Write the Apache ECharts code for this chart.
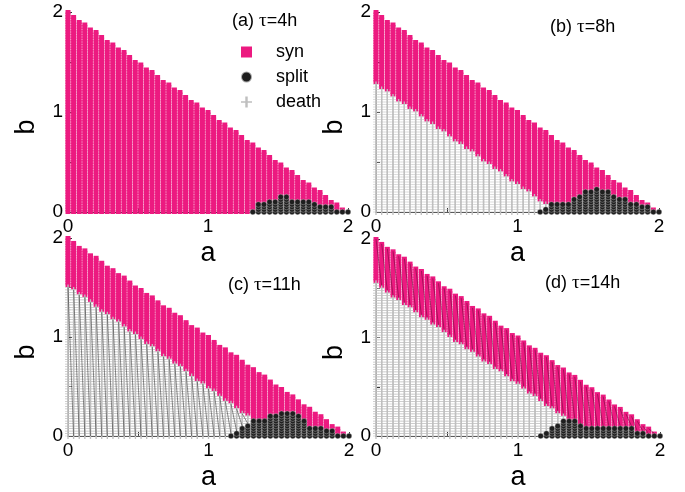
<!DOCTYPE html>
<html>
<head>
<meta charset="utf-8">
<script src="https://cdn.jsdelivr.net/npm/echarts@6/dist/echarts.min.js"></script>
<style>
html,body{margin:0;padding:0;background:#fff}
#chart{width:685px;height:492px}
</style>
</head>
<body>
<div id="chart"></div>
<script>
// Lattice of (a, b) parameter values
const aGrid = [0,0.04,0.08,0.12,0.16,0.2,0.24,0.28,0.32,0.36,0.4,0.44,0.48,0.52,0.56,0.6,0.64,0.68,0.72,0.76,0.8,0.84,0.88,0.92,0.96,1,1.04,1.08,1.12,1.16,1.2,1.24,1.28,1.32,1.36,1.4,1.44,1.48,1.52,1.56,1.6,1.64,1.68,1.72,1.76,1.8,1.84,1.88,1.92,1.96,2];
const bGrid = [0,0.025,0.05,0.075,0.1,0.125,0.15,0.175,0.2,0.225,0.25,0.275,0.3,0.325,0.35,0.375,0.4,0.425,0.45,0.475,0.5,0.525,0.55,0.575,0.6,0.625,0.65,0.675,0.7,0.725,0.75,0.775,0.8,0.825,0.85,0.875,0.9,0.925,0.95,0.975,1,1.025,1.05,1.075,1.1,1.125,1.15,1.175,1.2,1.225,1.25,1.275,1.3,1.325,1.35,1.375,1.4,1.425,1.45,1.475,1.5,1.525,1.55,1.575,1.6,1.625,1.65,1.675,1.7,1.725,1.75,1.775,1.8,1.825,1.85,1.875,1.9,1.925,1.95,1.975,2];

// Panel titles and tick labels
const panelTitles = [['(a) ', 'τ', '=4h'], ['(b) ', 'τ', '=8h'], ['(c) ', 'τ', '=11h'], ['(d) ', 'τ', '=14h']];
const tickLabels = ['0', '1', '2'];
const stateNames = ['syn', 'split', 'death'];

// Per a-column: highest b of the "split" outcome (null = none)
const N = null;
const splitTopA = [N,N,N,N,N,N,N,N,N,N,N,N,N,N,N,N,N,N,N,N,N,N,N,N,N,N,N,N,N,N,N,N,N,
  0,0.075,0.075,0.1,0.1,0.15,0.15,0.1,0.1,0.1,0.1,0.075,0.05,0.05,0.05,0,0,0];
const splitTopB = [N,N,N,N,N,N,N,N,N,N,N,N,N,N,N,N,N,N,N,N,N,N,N,N,N,N,N,N,N,
  0,0.025,0.075,0.075,0.075,0.075,0.125,0.15,0.2,0.2,0.225,0.2,0.2,0.15,0.125,0.125,0.075,0.075,0.05,0.05,0,0];
const splitTopC = [N,N,N,N,N,N,N,N,N,N,N,N,N,N,N,N,N,N,N,N,N,N,N,N,N,N,N,N,N,
  0,0.025,0.075,0.1,0.15,0.15,0.15,0.2,0.2,0.225,0.225,0.225,0.2,0.15,0.075,0.075,0.075,0.05,0.05,0,0,0];
const splitTopD = [N,N,N,N,N,N,N,N,N,N,N,N,N,N,N,N,N,N,N,N,N,N,N,N,N,N,N,N,N,
  0,0.025,0.075,0.1,0.15,0.15,0.15,0.1,0.075,0.075,0.075,0.075,0.075,0.075,0.075,0.075,0.075,0.025,0.025,0,0,0];

// Per a-column: highest b of the "death" outcome (null = none)
const deathTopA = null;
const deathTopB = [1.28,1.24,1.2,1.16,1.12,1.08,1.04,1,0.96,0.92,0.88,0.84,0.8,0.76,0.72,0.68,0.64,0.6,0.56,0.52,0.48,0.44,0.4,0.36,0.32,0.28,0.24,0.2,0.16,0.12,0.08,
  N,N,N,N,N,N,N,N,N,N,N,N,N,N,N,N,N,N,N,N];
const deathTopC = [1.52,1.48,1.44,1.4,1.36,1.31,1.27,1.23,1.19,1.15,1.11,1.07,1.03,0.98,0.94,0.9,0.86,0.82,0.78,0.74,0.7,0.66,0.61,0.57,0.53,0.49,0.45,0.41,0.37,0.33,0.28,0.24,0.2,0.16,
  N,N,N,N,N,N,N,N,N,N,N,N,N,N,N,N,N];
const deathTopD = [1.55,1.5,1.46,1.42,1.38,1.34,1.3,1.26,1.22,1.18,1.14,1.1,1.06,1.02,0.97,0.93,0.89,0.85,0.81,0.77,0.73,0.69,0.65,0.61,0.57,0.53,0.48,0.44,0.4,0.36,0.32,0.28,0.24,0.2,0.16,
  N,N,N,N,N,N,N,N,N,N,N,N,N,N,N,N];

const panels = [
  { split: splitTopA, death: deathTopA, trace: null },
  { split: splitTopB, death: deathTopB, trace: null },
  { split: splitTopC, death: deathTopC, trace: 'death' },
  { split: splitTopD, death: deathTopD, trace: 'syn' }
];

const grids = [
  { left: 68, top: 12, width: 280, height: 200 },
  { left: 376, top: 12, width: 283, height: 200 },
  { left: 68, top: 238, width: 281, height: 201 },
  { left: 376, top: 239, width: 284, height: 200 }
];

const EPS = 1e-6;
const MAGENTA = '#ec1a80';
const PLUS = 'path://M3.9,0H6.1V4.4H10V5.6H6.1V10H3.9V5.6H0V4.4H3.9Z';
const FONT = 'Liberation Sans, Arial, sans-serif';

// Sort every lattice point of the simplex a + b <= 2 into its outcome
function classify(p) {
  const cols = { syn: [], split: [], death: [] };
  const pts = { syn: [], split: [], death: [] };
  aGrid.forEach((a, i) => {
    const colSets = { syn: [], split: [], death: [] };
    bGrid.forEach(b => {
      if (a + b > 2 + EPS) return;
      const s = p.split[i];
      const d = p.death ? p.death[i] : null;
      let k = 'syn';
      if (s !== null && b <= s + EPS) k = 'split';
      else if (d !== null && b <= d + EPS) k = 'death';
      pts[k].push([a, b]);
      colSets[k].push(b);
    });
    Object.keys(colSets).forEach(k => cols[k].push(colSets[k]));
  });
  return { pts, cols };
}

// Segments that join the top of one column to the foot of the next one
function traceSegments(colList) {
  const segs = [];
  for (let i = 0; i + 1 < colList.length; i++) {
    const c0 = colList[i], c1 = colList[i + 1];
    if (!c0.length || !c1.length) continue;
    segs.push({ coords: [[aGrid[i], c0[c0.length - 1]], [aGrid[i + 1], c1[0]]] });
  }
  return segs;
}

const xAxes = [], yAxes = [], series = [], titles = [];
const labelFmt = v => {
  const idx = [0, 1, 2].indexOf(v);
  return idx >= 0 ? tickLabels[idx] : '';
};

panels.forEach((p, k) => {
  const { pts, cols } = classify(p);
  xAxes.push({
    gridIndex: k, type: 'value', min: 0, max: 2, interval: 0.5,
    name: 'a', nameLocation: 'middle', nameGap: 28,
    nameTextStyle: { fontSize: 27, fontFamily: FONT, color: '#000' },
    axisLine: { lineStyle: { color: '#333', width: 1 } },
    axisTick: { inside: true, length: 4, lineStyle: { color: '#333' } },
    axisLabel: { formatter: labelFmt, fontSize: 19, fontFamily: FONT, color: '#000', margin: 5 },
    splitLine: { show: false }
  });
  yAxes.push({
    gridIndex: k, type: 'value', min: 0, max: 2, interval: 0.5,
    name: 'b', nameLocation: 'middle', nameGap: 28, nameRotate: 90,
    nameTextStyle: { fontSize: 27, fontFamily: FONT, color: '#000', padding: [0, 30, 0, 0] },
    axisLine: { lineStyle: { color: '#333', width: 1 } },
    axisTick: { inside: true, length: 4, lineStyle: { color: '#333' } },
    axisLabel: { formatter: labelFmt, fontSize: 19, fontFamily: FONT, color: '#000', margin: 5 },
    splitLine: { show: false }
  });
  series.push({
    name: 'syn', type: 'scatter', xAxisIndex: k, yAxisIndex: k,
    symbol: 'rect', symbolSize: [5, 4], itemStyle: { color: MAGENTA, opacity: 1 },
    data: pts.syn, z: 2, silent: true
  });
  series.push({
    name: 'death', type: 'scatter', xAxisIndex: k, yAxisIndex: k,
    symbol: PLUS, symbolSize: 6, itemStyle: { color: '#bfbfbf', opacity: 1 },
    data: pts.death, z: 2, silent: true
  });
  series.push({
    name: 'split', type: 'scatter', xAxisIndex: k, yAxisIndex: k,
    symbol: 'circle', symbolSize: 5.6,
    itemStyle: { color: '#1e1e1e', opacity: 1, borderColor: 'rgba(255,255,255,0.6)', borderWidth: 0.5 },
    data: pts.split, z: 3, silent: true
  });
  if (p.trace) {
    series.push({
      type: 'lines', coordinateSystem: 'cartesian2d', xAxisIndex: k, yAxisIndex: k,
      polyline: false, silent: true, z: 4,
      lineStyle: p.trace === 'death'
        ? { color: '#1a1a1a', width: 0.7, opacity: 0.7 }
        : { color: '#3a0a20', width: 0.7, opacity: 0.6 },
      data: traceSegments(cols[p.trace])
    });
  }
  const t = panelTitles[k];
  titles.push({
    text: '{p|' + t[0] + '}{t|' + t[1] + '}{p|' + t[2] + '}',
    left: [227, 545, 223, 540][k], top: [7, 13, 271, 269][k],
    textStyle: {
      fontWeight: 'normal',
      rich: {
        p: { fontSize: 18, fontFamily: FONT, color: '#000', fontWeight: 'normal' },
        t: { fontSize: 19, fontFamily: 'Liberation Serif, serif', color: '#000', fontWeight: 'normal' }
      }
    }
  });
});

const chart = echarts.init(document.getElementById('chart'), null, { renderer: 'canvas' });
chart.setOption({
  animation: false,
  backgroundColor: '#fff',
  title: titles,
  grid: grids,
  xAxis: xAxes,
  yAxis: yAxes,
  legend: {
    left: 235, top: 37, orient: 'vertical',
    itemWidth: 11, itemHeight: 11, itemGap: 5,
    selectedMode: false,
    textStyle: { fontSize: 18, fontFamily: FONT, color: '#000', lineHeight: 20, padding: [0, 0, 0, 19] },
    data: [
      { name: stateNames[0], icon: 'rect' },
      { name: stateNames[1], icon: 'circle' },
      { name: stateNames[2], icon: PLUS }
    ]
  },
  series: series
});
</script>
</body>
</html>
